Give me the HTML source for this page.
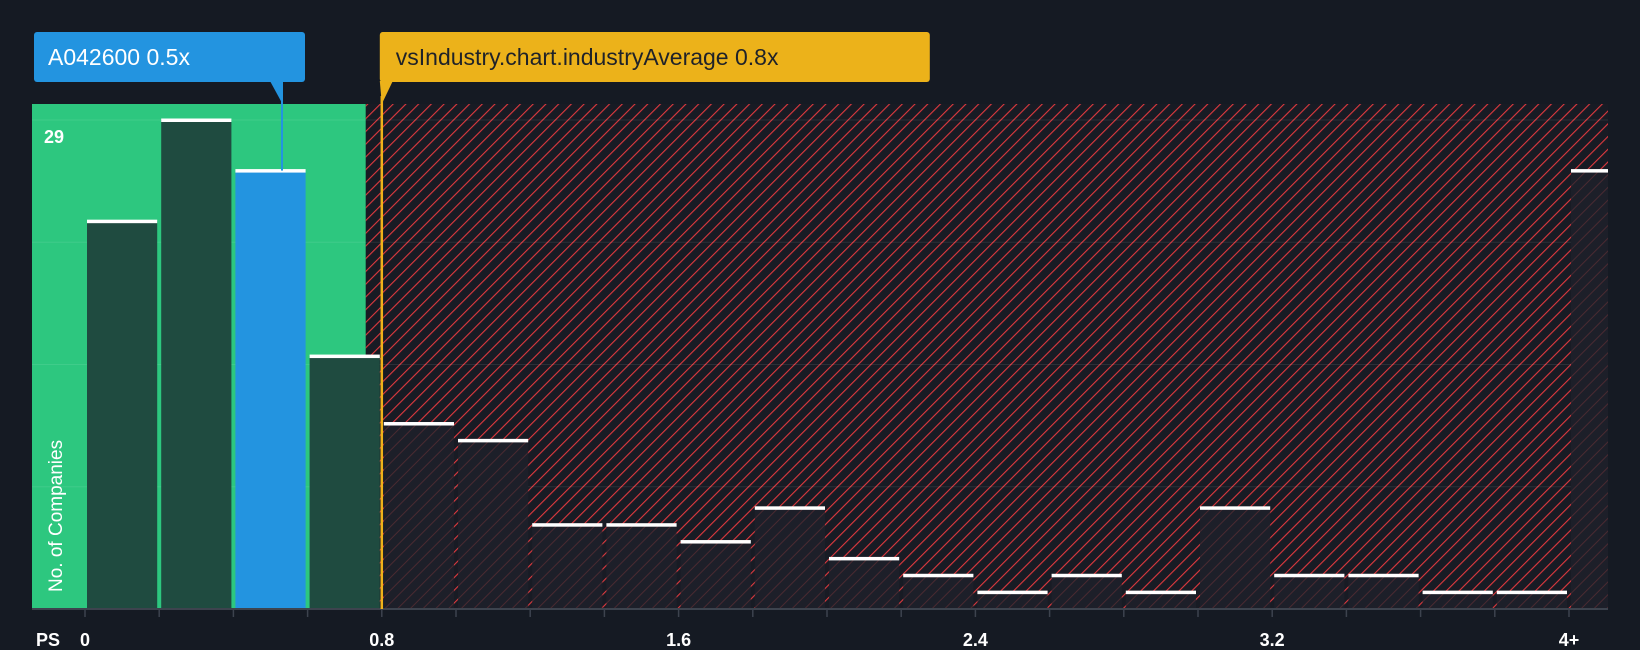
<!DOCTYPE html>
<html><head><meta charset="utf-8"><style>
html,body{margin:0;padding:0;background:#151a23;}
svg{display:block;font-family:"Liberation Sans",sans-serif;}
</style></head><body>
<svg id="chart" width="1640" height="650" viewBox="0 0 1640 650" xmlns="http://www.w3.org/2000/svg">
<defs>
<pattern id="hatch" patternUnits="userSpaceOnUse" width="9" height="9" patternTransform="rotate(45)">
<rect width="9" height="9" fill="#181b24"/>
<line x1="0" y1="0" x2="0" y2="9" stroke="#e0393e" stroke-width="2.2"/>
</pattern>
<pattern id="hatchDark" patternUnits="userSpaceOnUse" width="9" height="9" patternTransform="rotate(45)">
<rect width="9" height="9" fill="#1d1f29"/>
<line x1="0" y1="0" x2="0" y2="9" stroke="#4a2a31" stroke-width="2"/>
</pattern>
</defs>
<rect width="1640" height="650" fill="#151a23"/>
<g id="plot"></g>
</svg>
<script>
const categories = ["0","0.2","0.4","0.6","0.8","1.0","1.2","1.4","1.6","1.8","2.0","2.2","2.4","2.6","2.8","3.0","3.2","3.4","3.6","3.8","4+"];
const counts = [23,29,26,15,11,10,5,5,4,6,3,2,1,2,1,6,2,2,1,1,26];
const tickLabels = ["0","0.8","1.6","2.4","3.2","4+"];
const tickValues = [0,0.8,1.6,2.4,3.2,4.0];
const yMax = 29;
const companyValue = 0.5;
const industryAvg = 0.8;

const NS="http://www.w3.org/2000/svg";
const g=document.getElementById('plot');
const L=32,R=1608,T=104,B=609,X0=85,BW=74.2;
const yTop=120;
const xs=v=>X0+v/0.2*BW;
const ys=v=>B-(v/yMax)*(B-yTop);
function mk(tag,attrs,parent){const e=document.createElementNS(NS,tag);for(const k in attrs)e.setAttribute(k,attrs[k]);(parent||g).appendChild(e);return e;}

const xAvg=xs(industryAvg);
let e;
e=mk('rect',{x:L,y:T,width:xAvg-L-16,height:B-T,fill:'#2dc77f'});


e=mk('rect',{x:xAvg-16,y:T,width:R-xAvg+16,height:B-T,fill:'url(#hatch)'});



for(let i=1;i<=4;i++){
  const y=B-i*(B-yTop)/4;
  e=mk('line',{x1:L,x2:R,y1:y,y2:y,stroke:'rgba(255,255,255,0.09)','stroke-width':1});
  
  
}

counts.forEach((c,i)=>{
  const x0=xs(i*0.2)+2;
  const w=(i===counts.length-1)?(R-x0):BW-4;
  const y=ys(c);
  const inGreen=i*0.2<industryAvg;
  const isCompany=companyValue>=i*0.2&&companyValue<(i+1)*0.2;
  const fill=isCompany?'#2394e0':(inGreen?'#1f4b40':'url(#hatchDark)');
  e=mk('rect',{x:x0,y:y,width:w,height:B-y,fill:fill});
  
  
  e=mk('rect',{x:x0,y:y-1.5,width:w,height:3.5,fill:'#ffffff'});
  
  
});

e=mk('line',{x1:L,x2:R,y1:B,y2:B,stroke:'#3d434e','stroke-width':2});


for(let i=0;i<=20;i++){
  const x=xs(i*0.2);
  e=mk('line',{x1:x,x2:x,y1:B,y2:B+8,stroke:'#3d434e','stroke-width':1.5});
  
  
}
tickLabels.forEach((t,i)=>{
  e=mk('text',{x:xs(tickValues[i]),y:646,fill:'#ffffff','font-size':18,'font-weight':'bold','text-anchor':'middle'});
  e.textContent=t;
  
  
});
e=mk('text',{x:36,y:646,fill:'#ffffff','font-size':18,'font-weight':'bold'});
e.textContent='PS';


e=mk('text',{x:44,y:143,fill:'#ffffff','font-size':18,'font-weight':'bold'});
e.textContent=String(yMax);


e=mk('text',{x:0,y:0,fill:'#ffffff','font-size':19,transform:'translate(62,592) rotate(-90)'});
e.textContent='No. of Companies';



// industry average line & callout
e=mk('line',{x1:xAvg,x2:xAvg,y1:96,y2:B,stroke:'#f0b21a','stroke-width':2.5});


e=mk('rect',{x:xAvg-2,y:32,width:550,height:50,rx:3,fill:'#ecb21a'});


e=mk('path',{d:`M${xAvg-2} 81 L${xAvg+11} 81 L${xAvg} 104 Z`,fill:'#ecb21a'});


e=mk('text',{x:xAvg+14,y:65,fill:'#1f2229','font-size':23});
e.textContent='vsIndustry.chart.industryAverage '+industryAvg+'x';



// company callout
const xc=282;
const compBin=Math.floor(companyValue/0.2);
e=mk('line',{x1:xc,x2:xc,y1:82,y2:ys(counts[compBin]),stroke:'#2394e0','stroke-width':2});


e=mk('rect',{x:34,y:32,width:271,height:50,rx:3,fill:'#2394e0'});


e=mk('path',{d:`M${xc-12} 81 L${xc+1} 81 L${xc} 103 Z`,fill:'#2394e0'});


e=mk('text',{x:48,y:65,fill:'#ffffff','font-size':23});
e.textContent='A042600 '+companyValue+'x';


</script>
</body></html>
